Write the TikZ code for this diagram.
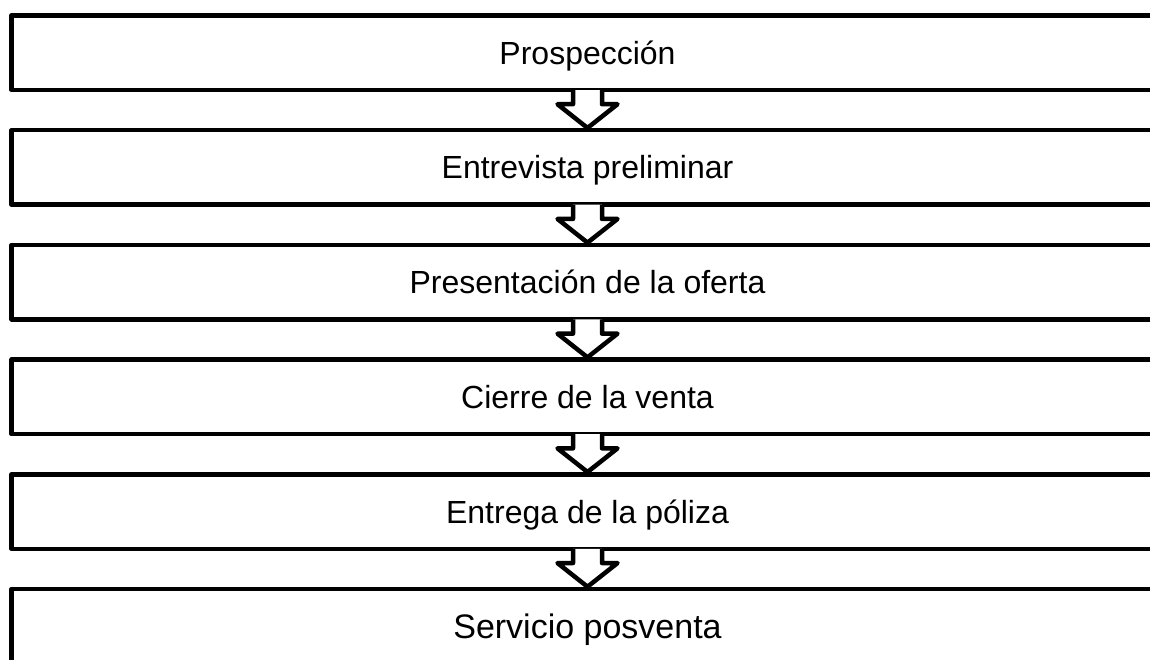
\documentclass[tikz,border=0pt]{standalone}
\usepackage{fontspec}
\setmainfont{Liberation Sans}
\usetikzlibrary{calc}
\tikzset{
  etapa/.style={draw, line width=4.5pt, line join=round, minimum width=1151.6pt, minimum height=74.5pt, inner sep=0pt, font=\fontsize{32}{38}\selectfont, text height=22.9pt, text depth=0pt},
  flecha/.style={draw, fill=white, line width=4.5pt, line join=round}
}
\begin{document}
\begin{tikzpicture}[x=1pt,y=-1pt]
\useasboundingbox (0,0) rectangle (1150,660);
\clip (0,0) rectangle (1150,660);
\node[etapa] (1) at (587.5,52.75) {Prospección};
\node[etapa] (2) at (587.5,167.45) {Entrevista preliminar};
\node[etapa] (3) at (587.5,282.15) {Presentación de la oferta};
\node[etapa] (4) at (587.5,396.85) {Cierre de la venta};
\node[etapa] (5) at (587.5,511.55) {Entrega de la póliza};
\node[etapa, font=\fontsize{34}{40}\selectfont, text height=24.3pt] (6) at (587.5,626.25) {Servicio posventa};

\path[flecha] ($(1.south)+(-14.5,-2.2)$) -- ($(1.south)+(-14.5,12)$) -- ($(1.south)+(-30,12)$) -- (2.north) -- ($(1.south)+(30,12)$) -- ($(1.south)+(14.5,12)$) -- ($(1.south)+(14.5,-2.2)$);
\path[flecha] ($(2.south)+(-14.5,-2.2)$) -- ($(2.south)+(-14.5,12)$) -- ($(2.south)+(-30,12)$) -- (3.north) -- ($(2.south)+(30,12)$) -- ($(2.south)+(14.5,12)$) -- ($(2.south)+(14.5,-2.2)$);
\path[flecha] ($(3.south)+(-14.5,-2.2)$) -- ($(3.south)+(-14.5,12)$) -- ($(3.south)+(-30,12)$) -- (4.north) -- ($(3.south)+(30,12)$) -- ($(3.south)+(14.5,12)$) -- ($(3.south)+(14.5,-2.2)$);
\path[flecha] ($(4.south)+(-14.5,-2.2)$) -- ($(4.south)+(-14.5,12)$) -- ($(4.south)+(-30,12)$) -- (5.north) -- ($(4.south)+(30,12)$) -- ($(4.south)+(14.5,12)$) -- ($(4.south)+(14.5,-2.2)$);
\path[flecha] ($(5.south)+(-14.5,-2.2)$) -- ($(5.south)+(-14.5,12)$) -- ($(5.south)+(-30,12)$) -- (6.north) -- ($(5.south)+(30,12)$) -- ($(5.south)+(14.5,12)$) -- ($(5.south)+(14.5,-2.2)$);
\end{tikzpicture}
\end{document}
